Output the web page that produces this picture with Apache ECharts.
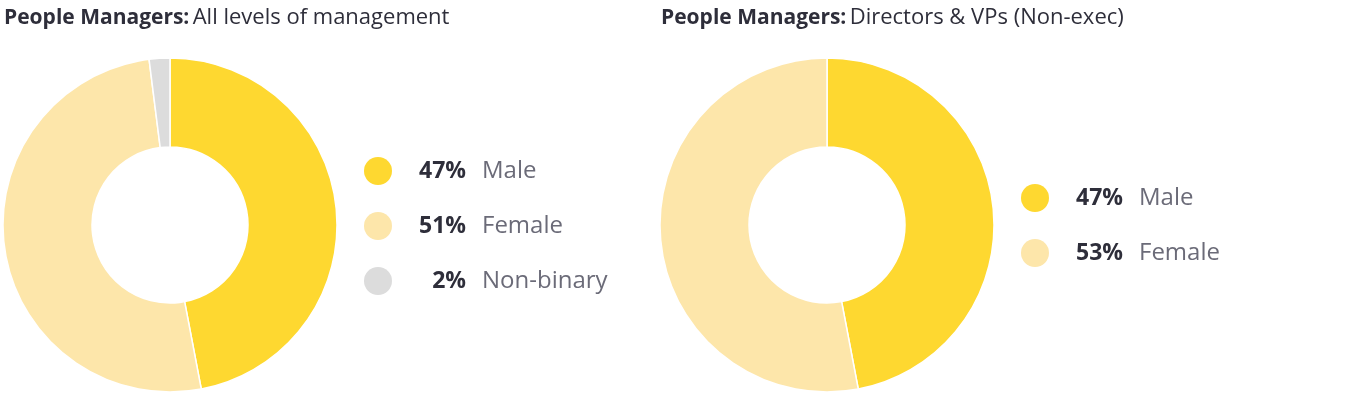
<!DOCTYPE html>
<html><head><meta charset="utf-8">
<script src="https://cdn.jsdelivr.net/npm/echarts@6/dist/echarts.min.js"></script>
<style>html,body{margin:0;padding:0;background:#fff}#c{width:1346px;height:417px}</style>
</head><body><div id="c"></div>
<script>
const titles1 = ['People Managers:', 'All levels of management'];
const titles2 = ['People Managers:', 'Directors & VPs (Non-exec)'];
const cats1 = ['Male', 'Female', 'Non-binary'];
const vals1 = [47, 51, 2];
const cats2 = ['Male', 'Female'];
const vals2 = [47, 53];
const colors = ['#FED830', '#FDE6AA', '#DCDCDC'];
const font = '"Open Sans", sans-serif';

function pie(cx, cats, vals) {
  return {
    type: 'pie', center: [cx, 225], radius: [78, 167], startAngle: 90, clockwise: true,
    label: {show: false}, silent: true,
    itemStyle: {borderColor: '#fff', borderWidth: 1.5},
    data: cats.map((c, i) => ({name: c, value: vals[i], itemStyle: {color: colors[i]}}))
  };
}
function legend(x, y0, cats, vals) {
  const g = [];
  cats.forEach((c, i) => {
    const y = y0 + i * 55;
    g.push({type: 'circle', shape: {cx: x, cy: y, r: 14}, style: {fill: colors[i]}});
    g.push({type: 'text', x: x + 88, y: y, style: {text: vals[i] + '%', font: 'bold 23px ' + font, fill: '#2e2e3a', align: 'right', verticalAlign: 'middle'}});
    g.push({type: 'text', x: x + 104, y: y, style: {text: c, font: '24px ' + font, fill: '#6b6b78', align: 'left', verticalAlign: 'middle'}});
  });
  return g;
}
function title(x, t) {
  return {type: 'text', x: x, y: 18, style: {
    text: '{b|' + t[0] + '} {n|' + t[1] + '}', verticalAlign: 'middle',
    rich: {b: {font: 'bold 21px ' + font, fill: '#2e2e3a'}, n: {font: '22px ' + font, fill: '#2e2e3a'}}
  }};
}
const chart = echarts.init(document.getElementById('c'));
chart.setOption({
  animation: false,
  series: [pie(170, cats1, vals1), pie(827, cats2, vals2)],
  graphic: [title(4, titles1), title(661, titles2), ...legend(378, 171, cats1, vals1), ...legend(1035, 198, cats2, vals2)]
});
</script></body></html>
